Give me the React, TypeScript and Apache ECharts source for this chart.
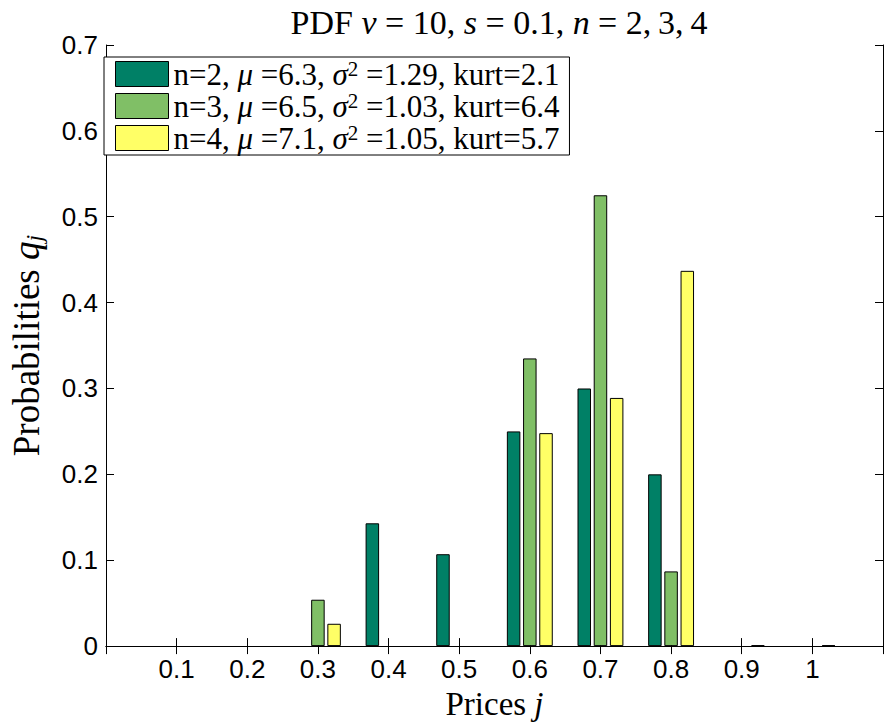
import React, { useEffect, useRef } from "react";
import * as echarts from "echarts";

const categories = ["0.1", "0.2", "0.3", "0.4", "0.5", "0.6", "0.7", "0.8", "0.9", "1"];
const seriesN = [2, 3, 4];
const muVals = ["6.3", "6.5", "7.1"];
const varVals = ["1.29", "1.03", "1.05"];
const kurtVals = ["2.1", "6.4", "5.7"];
const n2 = [0, 0, 0, 0.143, 0.107, 0.25, 0.3, 0.2, 0, 0];
const n3 = [0, 0, 0.054, 0, 0, 0.335, 0.525, 0.087, 0, 0];
const n4 = [0, 0, 0.026, 0, 0, 0.248, 0.289, 0.437, 0.001, 0.001];
const yTicks = { min: 0, max: 0.7, interval: 0.1 };
const colors = ["#008066", "#80BF66", "#FFFF66"];

const SERIF = "'Liberation Serif', 'DejaVu Serif', serif";
const SANS = "'Liberation Sans', Arial, sans-serif";

export default function App() {
  const ref = useRef<HTMLDivElement>(null);
  useEffect(() => {
    if (!ref.current) return;
    const chart = echarts.init(ref.current, null, { renderer: "svg" });
    const axisData = ["0", ...categories, "1.1"];
    const pad = (arr: number[]) => [null, ...arr.map((v) => (v === 0 ? null : v)), null];
    const allData = [n2, n3, n4];
    const names = seriesN.map((n, i) => `n=${n}, mu=${muVals[i]}`);
    const legendMap: Record<string, number> = {};
    names.forEach((nm, i) => (legendMap[nm] = i));
    const lastIdx = axisData.length - 1;
    const tickFmt = (_v: string, i: number) => (i === 0 || i === lastIdx ? "" : axisData[i]);

    const option: any = {
      animation: false,
      title: {
        text: "{r|PDF }{i|v}{r| = 10, }{i|s}{r| = 0.1, }{i|n}{r| = 2,\u20093,\u20094}",
        left: 494,
        textAlign: "center",
        top: 0,
        textStyle: {
          fontWeight: "normal",
          rich: {
            r: { fontFamily: SERIF, fontSize: 34, fontWeight: "normal", color: "#000" },
            i: { fontFamily: SERIF, fontSize: 34, fontWeight: "normal", fontStyle: "italic", color: "#000" },
          },
        },
      },
      legend: {
        orient: "vertical",
        left: 104,
        top: 57,
        data: names,
        itemWidth: 53,
        itemHeight: 25,
        itemGap: 0,
        icon: "rect",
        backgroundColor: "#fff",
        borderColor: "#000",
        borderWidth: 1,
        borderRadius: 0,
        padding: [1, 10, 1, 11],
        itemStyle: { borderColor: "#000", borderWidth: 1 },
        formatter: (name: string) => {
          const i = legendMap[name];
          return `{t|n=${seriesN[i]}, }{i|μ}{t| =${muVals[i]}, }{i|σ}{s|2}{t| =${varVals[i]}, kurt=${kurtVals[i]}}`;
        },
        textStyle: {
          fontFamily: SERIF,
          fontSize: 31,
          lineHeight: 32,
          rich: {
            t: { fontFamily: SERIF, fontSize: 31, color: "#000", lineHeight: 32 },
            i: { fontFamily: SERIF, fontSize: 31, fontStyle: "italic", color: "#000", lineHeight: 32 },
            s: { fontFamily: SERIF, fontSize: 21, color: "#000", lineHeight: 14, verticalAlign: "top" },
          },
        },
      },
      grid: { left: 96, right: -3, top: 45, bottom: 69, containLabel: false },
      xAxis: [
        {
          type: "category",
          data: axisData,
          boundaryGap: false,
          axisLine: { lineStyle: { color: "#000", width: 1 } },
          axisTick: { inside: true, length: 8, interval: 0, lineStyle: { color: "#000" } },
          axisLabel: { interval: 0, formatter: tickFmt, fontFamily: SANS, fontSize: 26, color: "#000", margin: 10 },
          name: "{r|Prices }{i|j}",
          nameLocation: "middle",
          nameGap: 38,
          nameTextStyle: {
            rich: {
              r: { fontFamily: SERIF, fontSize: 33, color: "#000" },
              i: { fontFamily: SERIF, fontSize: 33, fontStyle: "italic", color: "#000" },
            },
          },
          splitLine: { show: false },
        },
        {
          type: "category",
          data: axisData,
          boundaryGap: false,
          position: "top",
          axisLine: { lineStyle: { color: "#000", width: 1 } },
          axisTick: { inside: true, length: 8, interval: 0, lineStyle: { color: "#000" } },
          axisLabel: { show: false },
          splitLine: { show: false },
        },
      ],
      yAxis: [
        {
          type: "value",
          ...yTicks,
          axisLine: { show: true, lineStyle: { color: "#000", width: 1 } },
          axisTick: { show: true, inside: true, length: 8, lineStyle: { color: "#000" } },
          axisLabel: {
            formatter: (v: number) => (v === 0 ? "0" : v.toFixed(1)),
            fontFamily: SANS,
            fontSize: 26,
            color: "#000",
            margin: 8,
          },
          splitLine: { show: false },
          name: "{r|Probabilities }{i|q}{s|j}",
          nameLocation: "middle",
          nameGap: 60,
          nameRotate: 90,
          nameTextStyle: {
            rich: {
              r: { fontFamily: SERIF, fontSize: 37, color: "#000" },
              i: { fontFamily: SERIF, fontSize: 37, fontStyle: "italic", color: "#000" },
              s: { fontFamily: SERIF, fontSize: 24, fontStyle: "italic", color: "#000", padding: [15, 0, 0, 0] },
            },
          },
        },
        {
          type: "value",
          ...yTicks,
          position: "right",
          axisLine: { show: true, lineStyle: { color: "#000", width: 1 } },
          axisTick: { show: true, inside: true, length: 8, lineStyle: { color: "#000" } },
          axisLabel: { show: false },
          splitLine: { show: false },
        },
      ],
      series: allData.map((d, i) => ({
        name: names[i],
        type: "bar",
        data: pad(d),
        barWidth: 13.5,
        barGap: "20%",
        itemStyle: { color: colors[i], borderColor: "#000", borderWidth: 1 },
      })),
    };
    chart.setOption(option);
    return () => chart.dispose();
  }, []);
  return (
    <div
      ref={ref}
      style={{ position: "absolute", left: 0, top: 0, width: 886, height: 725, background: "#fff" }}
    />
  );
}
